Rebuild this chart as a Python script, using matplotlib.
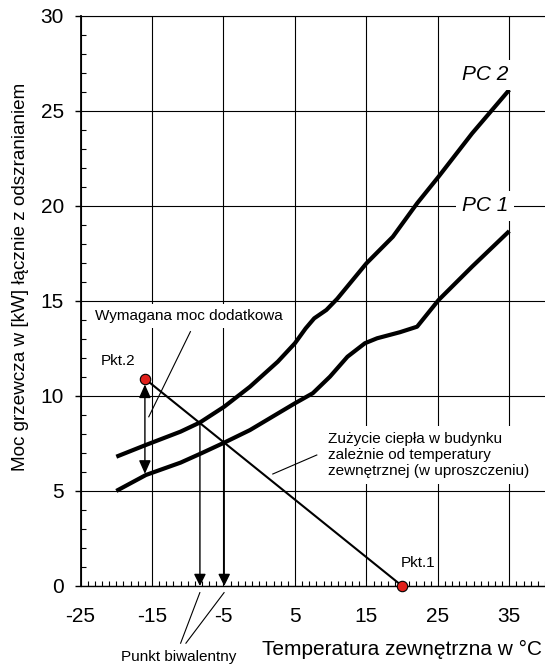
import matplotlib
matplotlib.use("Agg")
import matplotlib.pyplot as plt
from matplotlib.ticker import MultipleLocator

plt.rcParams['font.family'] = ['Liberation Sans', 'DejaVu Sans']
plt.rcParams['axes.unicode_minus'] = False

# heat pump curves
temp_pc2 = [-20, -15.85, -11, -8.3, -4.9, -1.3, 2.6, 5.0, 6.5, 7.7, 9.4, 10.9, 15.0, 18.7, 22.1, 25.1, 29.8, 35]
power_pc2 = [6.8, 7.42, 8.12, 8.6, 9.43, 10.48, 11.8, 12.77, 13.55, 14.08, 14.52, 15.1, 16.97, 18.37, 20.13, 21.53, 23.81, 26.1]

temp_pc1 = [-20, -15.85, -11, -8.1, -4.9, -1.3, 5.0, 7.5, 9.9, 12.35, 14.8, 16.5, 19.7, 22.1, 25.1, 29.8, 35]
power_pc1 = [5.0, 5.84, 6.49, 6.98, 7.54, 8.2, 9.61, 10.14, 11.01, 12.06, 12.77, 13.03, 13.35, 13.64, 15.04, 16.8, 18.67]

# building heat demand line Pkt.2 -> Pkt.1
pkt_temp = [-16, 20]
pkt_power = [10.9, 0]
pkt_names = ['Pkt.2', 'Pkt.1']

# bivalent points
biv_temp = [-8.3, -4.9]
biv_power = [8.6, 7.55]

# extra power arrow at Pkt.2 temperature
extra_temp = -16
extra_range = [10.6, 5.9]

xticks = [-25, -15, -5, 5, 15, 25, 35]
yticks = [0, 5, 10, 15, 20, 25, 30]

fig = plt.figure(figsize=(5.45, 6.68), dpi=100)
ax = fig.add_axes([0.1479, 0.1228, 0.8521, 0.8537])

ax.set_xlim(-25, 40)
ax.set_ylim(0, 30)
ax.set_xticks(xticks)
ax.set_yticks(yticks)
ax.xaxis.set_minor_locator(MultipleLocator(1))
ax.yaxis.set_minor_locator(MultipleLocator(1))
ax.tick_params(axis='x', which='major', length=0, pad=15, labelsize=15)
ax.tick_params(axis='x', which='minor', direction='in', length=3.8, width=0.8, bottom=True, top=False)
ax.tick_params(axis='y', which='major', direction='out', length=4.5, width=1, pad=7.5, labelsize=15)
ax.tick_params(axis='y', which='minor', direction='in', length=3.8, width=0.8, left=True, right=False)
ax.grid(True, which='major', color='black', linewidth=0.8)
ax.spines['right'].set_visible(False)
ax.spines['left'].set_linewidth(1.3)
ax.spines['bottom'].set_linewidth(1.0)
ax.spines['top'].set_linewidth(0.8)

ax.plot(temp_pc2, power_pc2, color='black', linewidth=3, solid_capstyle='butt', zorder=3)
ax.plot(temp_pc1, power_pc1, color='black', linewidth=3, solid_capstyle='butt', zorder=3)
ax.plot(pkt_temp, pkt_power, color='black', linewidth=1.5, zorder=3)

arrow_kw = dict(color='black', lw=1.0, shrinkA=0, shrinkB=0, mutation_scale=18)
for t, p in zip(biv_temp, biv_power):
    ax.annotate('', xy=(t, 0), xytext=(t, p),
                arrowprops=dict(arrowstyle='-|>,head_length=0.4,head_width=0.2', **arrow_kw), zorder=4)
ax.annotate('', xy=(extra_temp, extra_range[1]), xytext=(extra_temp, extra_range[0]),
            arrowprops=dict(arrowstyle='<|-|>,head_length=0.45,head_width=0.2', **arrow_kw), zorder=4)

ax.plot(pkt_temp, pkt_power, linestyle='none', marker='o', markersize=7.5,
        markerfacecolor='#e0201b', markeredgecolor='black', markeredgewidth=0.8,
        clip_on=False, zorder=5)

box = dict(facecolor='white', edgecolor='none', pad=4)
ax.text(31.6, 26.9, 'PC 2', fontsize=15, style='italic', ha='center', va='center', bbox=box, zorder=4)
ax.text(31.6, 20.0, 'PC 1', fontsize=15, style='italic', ha='center', va='center', bbox=box, zorder=4)

ax.text(-19.8, 11.84, pkt_names[0], fontsize=11, ha='center', va='center', zorder=4)
ax.text(22.3, 1.19, pkt_names[1], fontsize=11, ha='center', va='center', zorder=4)

ax.text(-9.9, 14.2, 'Wymagana moc dodatkowa', fontsize=11, ha='center', va='center',
        bbox=dict(facecolor='white', edgecolor='none', pad=3.5), zorder=4)
ax.plot([-9.63, -15.46], [13.38, 8.9], color='black', linewidth=0.8, zorder=4)

ax.text(9.57, 6.9, 'Zużycie ciepła w budynku\nzależnie od temperatury\nzewnętrznej (w uproszczeniu)',
        fontsize=11, ha='left', va='center', linespacing=1.2, bbox=box, zorder=4)
ax.plot([8.06, 1.9], [6.89, 5.89], color='black', linewidth=0.8, zorder=4)

ax.plot([-8.31, -11.0], [-0.35, -3.01], color='black', linewidth=0.8, clip_on=False)
ax.plot([-4.92, -10.26], [-0.35, -3.01], color='black', linewidth=0.8, clip_on=False)
ax.text(-11.3, -3.75, 'Punkt biwalentny', fontsize=11, ha='center', va='center')

ax.set_xlabel('Temperatura zewnętrzna w °C', fontsize=15, ha='right', va='center')
ax.xaxis.set_label_coords(0.9935, -0.112)
ax.set_ylabel('Moc grzewcza w [kW] łącznie z odszranianiem', fontsize=13.6, ha='center', va='center')
ax.yaxis.set_label_coords(-0.1305, 0.5427)

fig.savefig('out.png', dpi=100)
